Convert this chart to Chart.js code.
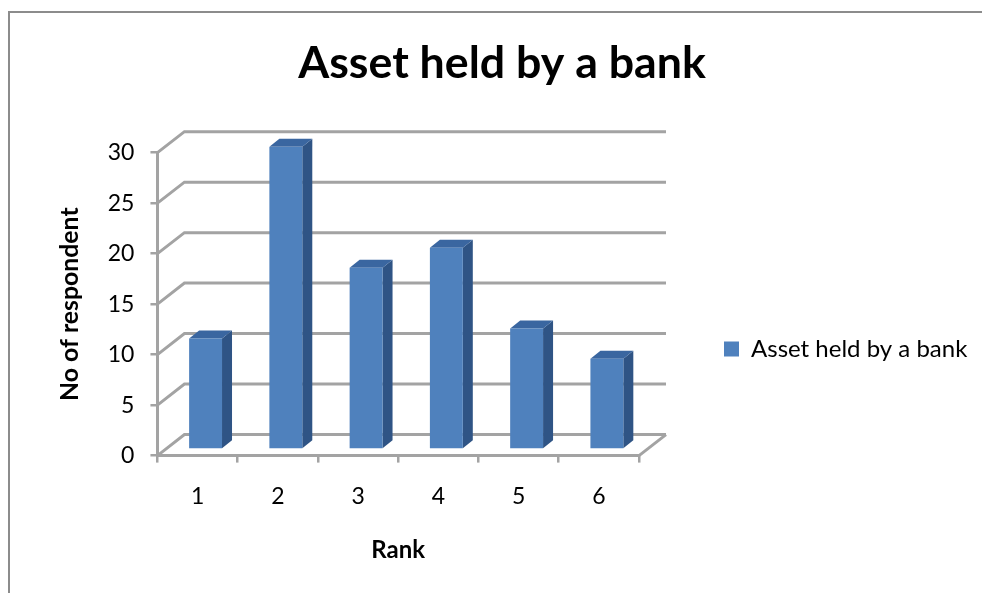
<!DOCTYPE html>
<html>
<head>
<meta charset="utf-8">
<title>Asset held by a bank</title>
<script src="https://cdn.jsdelivr.net/npm/chart.js@4"></script>
<style>
  html, body { margin: 0; padding: 0; background: #fff; overflow: hidden; }
  #wrap { position: absolute; left: 0; top: 0; width: 982px; height: 593px; overflow: hidden; }
  #frame { position: absolute; left: 8px; top: 11px; width: 990px; height: 600px; border: 2.5px solid #8c8c8c; box-sizing: border-box; }
  #chart { position: absolute; left: 0; top: 0; }
</style>
</head>
<body>
<div id="wrap">
  <div id="frame"></div>
  <canvas id="chart" width="982" height="593"></canvas>
</div>
<script>
var ranks = ["1", "2", "3", "4", "5", "6"];
var respondents = [11, 30, 18, 20, 12, 9];
var seriesName = "Asset held by a bank";

var FONT = "Lato, Carlito, sans-serif";
var GRID = "#a3a3a3";
var DEPTH_X = 27, DEPTH_Y = 21;     // back wall offset
var BAR_X = 8, BAR_Y = 6;           // bar sits inside the floor
var SIDE_X = 10, SIDE_Y = 8;        // bar depth

var wallPlugin = {
  id: "wall",
  afterLayout: function (chart) {
    // legend and title sit off the auto layout's spots
    var lg = chart.legend;
    lg.top += 46;
    lg.bottom += 46;
    lg.left += 78;
    lg.right += 200;
    var tb = chart.titleBlock;
    tb.left += 59;
    tb.right += 59;
  },
  beforeDatasetsDraw: function (chart) {
    var c = chart.ctx, a = chart.chartArea, y = chart.scales.y;
    c.save();
    c.strokeStyle = GRID;
    c.lineWidth = 3;
    y.ticks.forEach(function (t) {
      var py = y.getPixelForValue(t.value);
      c.beginPath();
      c.moveTo(a.left, py);
      c.lineTo(a.left + DEPTH_X, py - DEPTH_Y);
      c.lineTo(a.right + DEPTH_X, py - DEPTH_Y);
      c.stroke();
    });
    var y0 = y.getPixelForValue(0);
    c.beginPath();
    c.moveTo(a.right, y0);
    c.lineTo(a.right + DEPTH_X, y0 - DEPTH_Y);
    c.stroke();
    c.restore();
  },
  beforeDatasetDraw: function (chart) {
    var c = chart.ctx;
    chart.getDatasetMeta(0).data.forEach(function (b) {
      var l = b.x - b.width / 2 + BAR_X, r = b.x + b.width / 2 + BAR_X;
      var t = b.y - BAR_Y, bt = b.base - BAR_Y;
      c.fillStyle = "#2f5485";
      c.beginPath();
      c.moveTo(r, t);
      c.lineTo(r + SIDE_X, t - SIDE_Y);
      c.lineTo(r + SIDE_X, bt - SIDE_Y);
      c.lineTo(r, bt);
      c.closePath();
      c.fill();
      c.fillStyle = "#3a66a0";
      c.beginPath();
      c.moveTo(l, t);
      c.lineTo(l + SIDE_X, t - SIDE_Y);
      c.lineTo(r + SIDE_X, t - SIDE_Y);
      c.lineTo(r, t);
      c.closePath();
      c.fill();
    });
    c.save();
    c.translate(BAR_X, -BAR_Y);
  },
  afterDatasetDraw: function (chart) {
    chart.ctx.restore();
  }
};

new Chart(document.getElementById("chart"), {
  type: "bar",
  data: {
    labels: ranks,
    datasets: [{
      label: seriesName,
      data: respondents,
      backgroundColor: "#4f81bd",
      borderWidth: 0,
      barPercentage: 1,
      categoryPercentage: 0.41
    }]
  },
  plugins: [wallPlugin],
  options: {
    responsive: false,
    animation: false,
    layout: { padding: { left: 51, top: 37, right: 147, bottom: 24 } },
    plugins: {
      title: {
        display: true,
        text: "Asset held by a bank",
        color: "#000",
        font: { family: FONT, size: 44.7, weight: "bold" },
        padding: { top: 0, bottom: 62 }
      },
      legend: {
        position: "right",
        labels: {
          color: "#000",
          boxWidth: 15,
          boxHeight: 15,
          padding: 7,
          font: { family: FONT, size: 24 }
        }
      },
      tooltip: { enabled: false }
    },
    scales: {
      x: {
        title: { display: true, text: "Rank", color: "#000", font: { family: FONT, size: 24, weight: "bold" }, padding: { top: 6 } },
        grid: { drawOnChartArea: false, color: GRID, tickLength: 7, lineWidth: 2.5 },
        border: { color: GRID, width: 3 },
        ticks: { color: "#000", font: { family: FONT, size: 23 }, padding: 20 }
      },
      y: {
        min: 0,
        max: 30,
        title: { display: true, text: "No of respondent", color: "#000", font: { family: FONT, size: 24.8, weight: "bold" }, padding: { top: 4, bottom: 7 } },
        grid: { drawOnChartArea: false, color: GRID, tickLength: 7, lineWidth: 2.5 },
        border: { color: GRID, width: 3 },
        ticks: { stepSize: 5, color: "#000", font: { family: FONT, size: 23 }, padding: 16 }
      }
    }
  }
});
</script>
</body>
</html>
